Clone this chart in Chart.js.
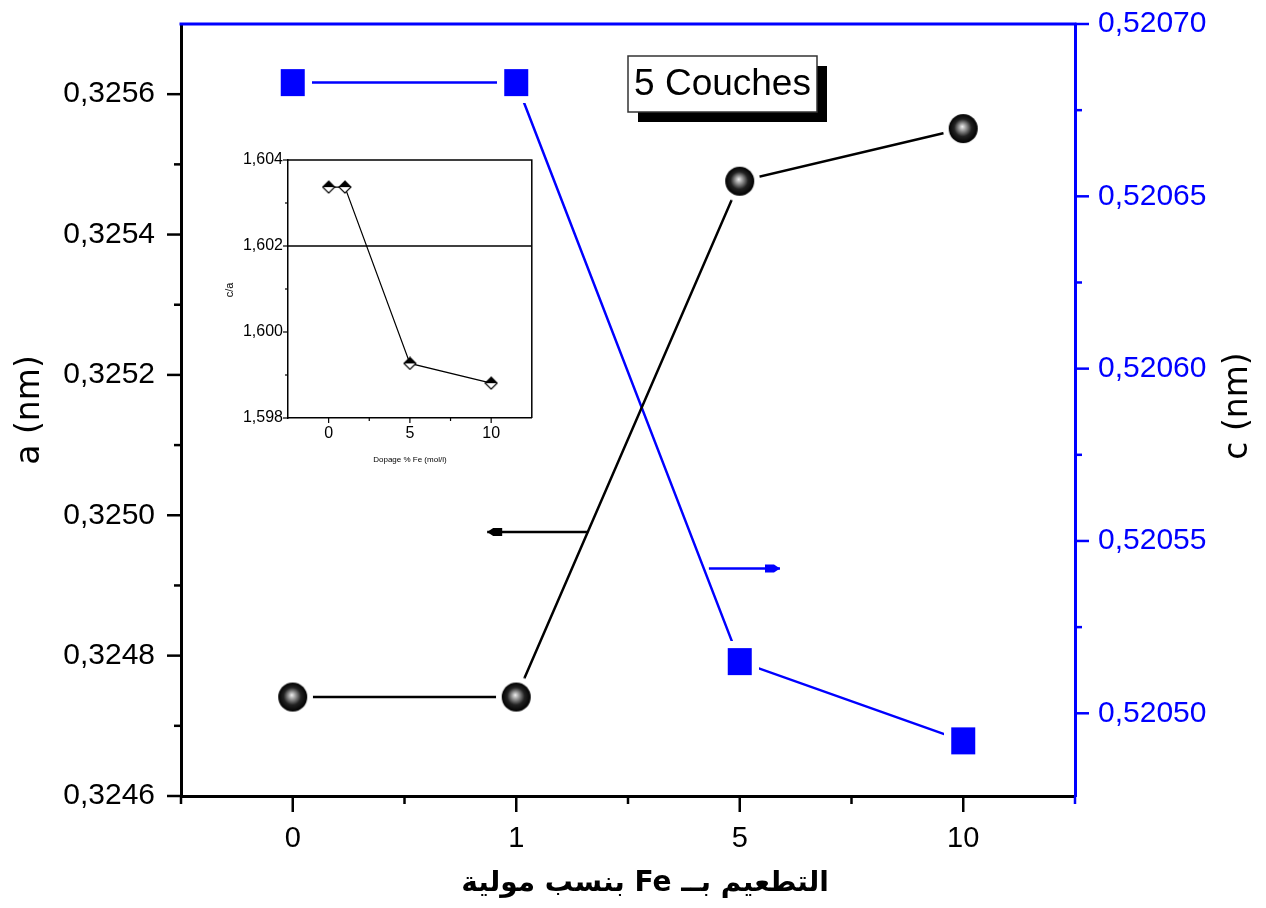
<!DOCTYPE html>
<html>
<head>
<meta charset="utf-8">
<script src="https://cdn.jsdelivr.net/npm/chart.js@4.4.1/dist/chart.umd.min.js"></script>
<style>
  html, body { margin: 0; padding: 0; background: #fff; }
  #wrap { position: relative; width: 1266px; height: 908px; overflow: hidden; }
  #main { position: absolute; left: 0; top: 0; }
  #inset { position: absolute; left: 220px; top: 145px; }
</style>
</head>
<body>
<div id="wrap">
  <canvas id="main" width="1266" height="908"></canvas>
  <canvas id="inset" width="320" height="330"></canvas>
</div>
<script>
// Fe doping levels (mol %) shown as evenly spaced categories
const dopingLabels = ['0', '1', '5', '10'];
const dopingPos = [0, 1, 2, 3];

// Lattice parameters, 5 layers
const latticeA = [0.324741, 0.324741, 0.325476, 0.325551];   // a (nm), left axis
const latticeC = [0.520683, 0.520683, 0.520515, 0.520492];   // c (nm), right axis

// Axis ticks
const aTicks = [0.3246, 0.3248, 0.3250, 0.3252, 0.3254, 0.3256];
const cTicks = [0.52050, 0.52055, 0.52060, 0.52065, 0.52070];

// Inset: c/a ratio versus doping
const insetDoping = [0, 1, 5, 10];
const ratioCA = [1.60337, 1.60337, 1.59927, 1.59881];
const ratioTicks = [1.598, 1.600, 1.602, 1.604];
const insetXTicks = [0, 5, 10];
const ratioRef = 1.602;

const FONT = '"Liberation Sans", Arial, sans-serif';
const BLUE = '#0000ff';

// ---- marker images ----
function makeSphere() {
  const r = 14.5, halo = 6, s = Math.ceil(2 * (r + halo));
  const c = document.createElement('canvas');
  c.width = c.height = s;
  const g = c.getContext('2d');
  const m = s / 2;
  g.fillStyle = '#fff';
  g.beginPath(); g.arc(m, m, r + halo, 0, Math.PI * 2); g.fill();
  const grad = g.createRadialGradient(m - 1, m - 2, 0, m, m, r);
  grad.addColorStop(0, '#f0f0f0');
  grad.addColorStop(0.25, '#9a9a9a');
  grad.addColorStop(0.6, '#222');
  grad.addColorStop(1, '#000');
  g.fillStyle = grad;
  g.beginPath(); g.arc(m, m, r, 0, Math.PI * 2); g.fill();
  return c;
}
function makeSquare() {
  const w = 24, h = 27, halo = 7;
  const c = document.createElement('canvas');
  c.width = w + 2 * halo; c.height = h + 2 * halo;
  const g = c.getContext('2d');
  g.fillStyle = '#fff';
  g.fillRect(0, 0, c.width, c.height);
  g.fillStyle = BLUE;
  g.fillRect(halo, halo, w, h);
  return c;
}
function makeDiamond() {
  const s = 12;
  const c = document.createElement('canvas');
  c.width = c.height = s + 2;
  const g = c.getContext('2d');
  const m = c.width / 2, h = s / 2;
  g.fillStyle = '#fff';
  g.beginPath(); g.moveTo(m, m - h); g.lineTo(m + h, m); g.lineTo(m, m + h); g.lineTo(m - h, m); g.closePath(); g.fill();
  g.fillStyle = '#000';
  g.beginPath(); g.moveTo(m, m - h); g.lineTo(m + h, m); g.lineTo(m - h, m); g.closePath(); g.fill();
  g.strokeStyle = '#000'; g.lineWidth = 1.2;
  g.beginPath(); g.moveTo(m, m - h); g.lineTo(m + h, m); g.lineTo(m, m + h); g.lineTo(m - h, m); g.closePath(); g.stroke();
  return c;
}

const sphere = makeSphere();
const square = makeSquare();
const diamond = makeDiamond();

const fmt = (v, d) => v.toFixed(d).replace('.', ',');

function midpoints(arr, extraLow, extraHigh) {
  const out = [];
  for (let i = 0; i < arr.length - 1; i++) out.push((arr[i] + arr[i + 1]) / 2);
  if (extraLow !== undefined) out.unshift(extraLow);
  if (extraHigh !== undefined) out.push(extraHigh);
  return out;
}

// keep the plot area fixed: no extra room for overhanging tick labels
function noOverhang(s) {
  s.paddingTop = 0; s.paddingBottom = 0; s.paddingLeft = 0; s.paddingRight = 0;
}

// ---- decorations on the main chart: tick marks, frame, titles, arrows, label box ----
const mainDecor = {
  id: 'mainDecor',
  afterDraw(chart) {
    const { ctx, chartArea: ca, scales } = chart;
    const x = scales.x, yA = scales.yA, yC = scales.yC;
    ctx.save();
    ctx.lineCap = 'butt';

    // top frame line
    ctx.strokeStyle = BLUE; ctx.lineWidth = 3;
    ctx.beginPath(); ctx.moveTo(ca.left - 1.5, ca.top); ctx.lineTo(ca.right + 1.5, ca.top); ctx.stroke();

    // left axis ticks
    ctx.strokeStyle = '#000'; ctx.lineWidth = 2.5;
    aTicks.forEach(v => { const p = yA.getPixelForValue(v); ctx.beginPath(); ctx.moveTo(ca.left - 14, p); ctx.lineTo(ca.left, p); ctx.stroke(); });
    midpoints(aTicks).forEach(v => { const p = yA.getPixelForValue(v); ctx.beginPath(); ctx.moveTo(ca.left - 7, p); ctx.lineTo(ca.left, p); ctx.stroke(); });

    // bottom axis ticks
    dopingPos.forEach(v => { const p = x.getPixelForValue(v); ctx.beginPath(); ctx.moveTo(p, ca.bottom); ctx.lineTo(p, ca.bottom + 16); ctx.stroke(); });
    midpoints(dopingPos, -0.5).forEach(v => { const p = x.getPixelForValue(v); ctx.beginPath(); ctx.moveTo(p, ca.bottom); ctx.lineTo(p, ca.bottom + 8); ctx.stroke(); });

    // right axis ticks
    ctx.strokeStyle = BLUE;
    cTicks.forEach(v => { const p = yC.getPixelForValue(v); ctx.beginPath(); ctx.moveTo(ca.right, p); ctx.lineTo(ca.right + 14, p); ctx.stroke(); });
    midpoints(cTicks).forEach(v => { const p = yC.getPixelForValue(v); ctx.beginPath(); ctx.moveTo(ca.right, p); ctx.lineTo(ca.right + 7, p); ctx.stroke(); });
    ctx.beginPath(); ctx.moveTo(ca.right, ca.bottom); ctx.lineTo(ca.right, ca.bottom + 8); ctx.stroke();

    // axis titles
    ctx.fillStyle = '#000';
    ctx.font = '33px "DejaVu Sans", sans-serif';
    ctx.textAlign = 'center'; ctx.textBaseline = 'middle';
    ctx.save(); ctx.translate(30, 410); ctx.rotate(-Math.PI / 2); ctx.fillText('a (nm)', 0, 0); ctx.restore();
    ctx.save(); ctx.translate(1238, 406); ctx.rotate(-Math.PI / 2); ctx.fillText('c (nm)', 0, 0); ctx.restore();

    ctx.font = 'bold 28px "DejaVu Sans", sans-serif';
    ctx.direction = 'rtl';
    ctx.fillText('التطعيم بــ Fe بنسب مولية', 645, 884);
    ctx.direction = 'ltr';

    // series-to-axis arrows
    function arrow(x0, x1, y, color) {
      ctx.strokeStyle = color; ctx.fillStyle = color; ctx.lineWidth = 2.5;
      ctx.beginPath(); ctx.moveTo(x0, y); ctx.lineTo(x1, y); ctx.stroke();
      const dir = Math.sign(x1 - x0);
      ctx.beginPath();
      ctx.moveTo(x1, y);
      ctx.lineTo(x1 - dir * 6, y - 4);
      ctx.lineTo(x1 - dir * 15, y - 4);
      ctx.lineTo(x1 - dir * 15, y + 4);
      ctx.lineTo(x1 - dir * 6, y + 4);
      ctx.closePath(); ctx.fill();
    }
    const aArrowY = yA.getPixelForValue(0.324976);
    arrow(x.getPixelForValue(1.322), x.getPixelForValue(0.87), aArrowY, '#000');
    const cArrowY = yC.getPixelForValue(0.520542);
    arrow(x.getPixelForValue(1.862), x.getPixelForValue(2.18), cArrowY, BLUE);

    // label box with drop shadow
    const bx = 628, by = 56, bw = 189, bh = 56;
    ctx.fillStyle = '#000';
    ctx.fillRect(bx + 10, by + 10, bw, bh);
    ctx.fillStyle = '#fff';
    ctx.fillRect(bx, by, bw, bh);
    ctx.strokeStyle = '#333'; ctx.lineWidth = 1.5;
    ctx.strokeRect(bx, by, bw, bh);
    ctx.fillStyle = '#000';
    ctx.font = '37px ' + FONT;
    ctx.textAlign = 'center'; ctx.textBaseline = 'middle';
    ctx.fillText('5 Couches', bx + bw / 2, by + bh / 2 + 1);

    ctx.restore();
  }
};

new Chart(document.getElementById('main'), {
  type: 'line',
  data: {
    datasets: [
      {
        label: 'a',
        data: dopingPos.map((p, i) => ({ x: p, y: latticeA[i] })),
        yAxisID: 'yA',
        borderColor: '#000',
        borderWidth: 2.5,
        pointStyle: sphere,
        pointRadius: 20,
        tension: 0
      },
      {
        label: 'c',
        data: dopingPos.map((p, i) => ({ x: p, y: latticeC[i] })),
        yAxisID: 'yC',
        borderColor: BLUE,
        borderWidth: 2.5,
        pointStyle: square,
        pointRadius: 20,
        tension: 0
      }
    ]
  },
  options: {
    responsive: false,
    animation: false,
    layout: { padding: { top: 24, left: 0, right: 0, bottom: 0 } },
    plugins: { legend: { display: false }, tooltip: { enabled: false } },
    scales: {
      x: {
        type: 'linear', min: -0.5, max: 3.5,
        afterBuildTicks: s => { s.ticks = dopingPos.map(v => ({ value: v })); },
        afterFit: s => { s.height = 112; noOverhang(s); },
        ticks: {
          callback: v => dopingLabels[dopingPos.indexOf(v)],
          padding: 26, color: '#000', font: { family: FONT, size: 29 }, maxRotation: 0
        },
        grid: { display: false, drawTicks: false },
        border: { color: '#000', width: 3 }
      },
      yA: {
        position: 'left', min: 0.3246, max: 0.3257,
        afterBuildTicks: s => { s.ticks = aTicks.map(v => ({ value: v })); },
        afterFit: s => { s.width = 181; noOverhang(s); },
        ticks: { callback: v => fmt(v, 4), padding: 26, color: '#000', font: { family: FONT, size: 30 } },
        grid: { display: false, drawTicks: false },
        border: { color: '#000', width: 3 }
      },
      yC: {
        position: 'right', min: 0.520476, max: 0.52070,
        afterBuildTicks: s => { s.ticks = cTicks.map(v => ({ value: v })); },
        afterFit: s => { s.width = 191; noOverhang(s); },
        ticks: { callback: v => fmt(v, 5), padding: 23, color: BLUE, font: { family: FONT, size: 30 } },
        grid: { display: false, drawTicks: false },
        border: { color: BLUE, width: 3 }
      }
    }
  },
  plugins: [mainDecor]
});

// ---- inset chart: c/a ratio ----
const insetDecor = {
  id: 'insetDecor',
  beforeDraw(chart) {
    const { ctx, chartArea: ca } = chart;
    ctx.save(); ctx.fillStyle = '#fff';
    ctx.fillRect(ca.left, ca.top, ca.right - ca.left, ca.bottom - ca.top);
    ctx.restore();
  },
  afterDraw(chart) {
    const { ctx, chartArea: ca, scales } = chart;
    ctx.save();
    ctx.strokeStyle = '#000'; ctx.lineWidth = 1.5;
    ctx.beginPath(); ctx.moveTo(ca.left, ca.top); ctx.lineTo(ca.right, ca.top); ctx.lineTo(ca.right, ca.bottom); ctx.stroke();
    ctx.lineWidth = 1.2;
    ratioTicks.forEach(v => { const p = scales.y.getPixelForValue(v); ctx.beginPath(); ctx.moveTo(ca.left - 5, p); ctx.lineTo(ca.left, p); ctx.stroke(); });
    midpoints(ratioTicks).forEach(v => { const p = scales.y.getPixelForValue(v); ctx.beginPath(); ctx.moveTo(ca.left - 3, p); ctx.lineTo(ca.left, p); ctx.stroke(); });
    insetXTicks.forEach(v => { const p = scales.x.getPixelForValue(v); ctx.beginPath(); ctx.moveTo(p, ca.bottom); ctx.lineTo(p, ca.bottom + 5); ctx.stroke(); });
    midpoints(insetXTicks).forEach(v => { const p = scales.x.getPixelForValue(v); ctx.beginPath(); ctx.moveTo(p, ca.bottom); ctx.lineTo(p, ca.bottom + 3); ctx.stroke(); });

    ctx.fillStyle = '#000';
    ctx.textAlign = 'center'; ctx.textBaseline = 'middle';
    ctx.font = '11px ' + FONT;
    ctx.save(); ctx.translate(10, 145); ctx.rotate(-Math.PI / 2); ctx.fillText('c/a', 0, 0); ctx.restore();
    ctx.font = '8px ' + FONT;
    ctx.fillText('Dopage % Fe (mol/l)', (ca.left + ca.right) / 2, 315);
    ctx.restore();
  }
};

new Chart(document.getElementById('inset'), {
  type: 'line',
  data: {
    datasets: [
      {
        data: insetDoping.map((p, i) => ({ x: p, y: ratioCA[i] })),
        borderColor: '#000', borderWidth: 1.2,
        pointStyle: diamond, pointRadius: 7, tension: 0
      },
      {
        data: [{ x: -2.5, y: ratioRef }, { x: 12.5, y: ratioRef }],
        borderColor: '#000', borderWidth: 1.6, pointRadius: 0
      }
    ]
  },
  options: {
    responsive: false,
    animation: false,
    layout: { padding: { top: 15, right: 8, left: 0, bottom: 0 } },
    plugins: { legend: { display: false }, tooltip: { enabled: false } },
    scales: {
      x: {
        type: 'linear', min: -2.5, max: 12.5,
        afterBuildTicks: s => { s.ticks = insetXTicks.map(v => ({ value: v })); },
        afterFit: s => { s.height = 57; noOverhang(s); },
        ticks: { padding: 6, color: '#000', font: { family: FONT, size: 16 }, maxRotation: 0 },
        grid: { display: false, drawTicks: false },
        border: { color: '#000', width: 1.5 }
      },
      y: {
        min: 1.598, max: 1.604,
        afterBuildTicks: s => { s.ticks = ratioTicks.map(v => ({ value: v })); },
        afterFit: s => { s.width = 68; noOverhang(s); },
        ticks: { callback: v => fmt(v, 3), padding: 5, color: '#000', font: { family: FONT, size: 16 } },
        grid: { display: false, drawTicks: false },
        border: { color: '#000', width: 1.5 }
      }
    }
  },
  plugins: [insetDecor]
});
</script>
</body>
</html>
